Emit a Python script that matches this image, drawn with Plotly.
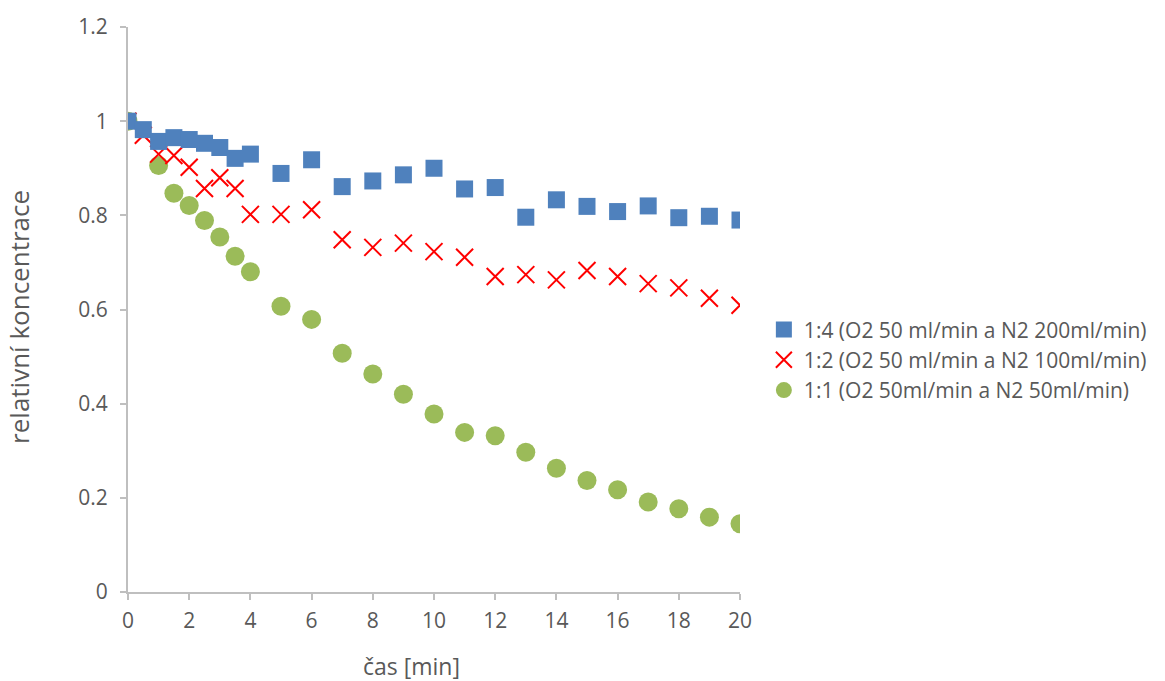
import plotly.graph_objects as go

# data
x_sq = [0, 0.5, 1, 1.5, 2, 2.5, 3, 3.5, 4, 5, 6, 7, 8, 9, 10, 11, 12, 13, 14, 15, 16, 17, 18, 19, 20]
y_sq = [1.0, 0.982, 0.957, 0.965, 0.961, 0.953, 0.944, 0.921, 0.93, 0.889, 0.918, 0.861, 0.873, 0.886, 0.900,
        0.856, 0.859, 0.796, 0.833, 0.819, 0.808, 0.820, 0.795, 0.798, 0.790]

x_x = [0, 0.5, 1, 1.5, 2, 2.5, 3, 3.5, 4, 5, 6, 7, 8, 9, 10, 11, 12, 13, 14, 15, 16, 17, 18, 19, 20]
y_x = [1.0, 0.97, 0.93, 0.927, 0.902, 0.857, 0.880, 0.857, 0.802, 0.802, 0.812, 0.748, 0.732, 0.741, 0.723,
       0.711, 0.670, 0.674, 0.663, 0.683, 0.670, 0.655, 0.646, 0.624, 0.609]

x_c = [0, 1, 1.5, 2, 2.5, 3, 3.5, 4, 5, 6, 7, 8, 9, 10, 11, 12, 13, 14, 15, 16, 17, 18, 19, 20]
y_c = [1.0, 0.906, 0.847, 0.821, 0.789, 0.754, 0.713, 0.680, 0.607, 0.579, 0.507, 0.463, 0.420, 0.378,
       0.339, 0.332, 0.297, 0.263, 0.237, 0.217, 0.191, 0.177, 0.159, 0.145]

names = ["1:4 (O2 50 ml/min a N2 200ml/min)",
         "1:2 (O2 50 ml/min a N2 100ml/min)",
         "1:1 (O2 50ml/min a N2 50ml/min)"]

x_ticks = list(range(0, 21, 2))
y_ticks = [0, 0.2, 0.4, 0.6, 0.8, 1, 1.2]
y_tick_text = ["0", "0.2", "0.4", "0.6", "0.8", "1", "1.2"]

fig = go.Figure()
# drawing order: circles bottom, crosses, squares top; legend order squares, crosses, circles
fig.add_trace(go.Scatter(x=x_c, y=y_c, mode="markers", name=names[2], legendrank=3,
                         marker=dict(symbol="circle", size=19, color="#9BBB59", line=dict(width=0))))
fig.add_trace(go.Scatter(x=x_x, y=y_x, mode="markers", name=names[1], legendrank=2,
                         marker=dict(symbol="x-thin", size=17, color="#FF0000",
                                     line=dict(width=2, color="#FF0000"))))
fig.add_trace(go.Scatter(x=x_sq, y=y_sq, mode="markers", name=names[0], legendrank=1,
                         marker=dict(symbol="square", size=17, color="#4F81BD", line=dict(width=0))))

axis_col = "#BFBFBF"
tick_font = dict(family="Open Sans", size=21, color="#595959")
title_font = dict(family="Open Sans", color="#595959")

fig.update_layout(
    width=1165, height=681,
    margin=dict(l=128, r=425, t=25, b=89),
    paper_bgcolor="white", plot_bgcolor="white",
    showlegend=True,
    legend=dict(x=1.039, y=0.411, xanchor="left", yanchor="middle",
                font=dict(family="Open Sans", size=21, color="#595959"),
                traceorder="normal", itemwidth=30, bgcolor="rgba(0,0,0,0)"),
    xaxis=dict(range=[0, 20], tickvals=x_ticks, showgrid=False, zeroline=False,
               showline=True, linecolor=axis_col, linewidth=2,
               ticks="outside", ticklen=6, tickcolor=axis_col, tickwidth=2,
               tickfont=tick_font, ticklabelstandoff=3),
    yaxis=dict(range=[0, 1.2], tickvals=y_ticks, ticktext=y_tick_text, showgrid=False, zeroline=False,
               showline=True, linecolor=axis_col, linewidth=2,
               ticks="outside", ticklen=6, tickcolor=axis_col, tickwidth=2,
               tickfont=tick_font, ticklabelstandoff=8),
    annotations=[
        dict(text="čas [min]", xref="paper", yref="paper", x=0.464, y=-0.1305,
             xanchor="center", yanchor="middle", showarrow=False,
             font=dict(size=23, **title_font)),
        dict(text="relativní koncentrace", xref="paper", yref="paper", x=-0.178, y=0.487,
             xanchor="center", yanchor="middle", showarrow=False, textangle=-90,
             font=dict(size=26, **title_font)),
    ],
)

fig.write_html("out.html", config={"displayModeBar": False},
               post_script="document.body.style.margin='0';")
